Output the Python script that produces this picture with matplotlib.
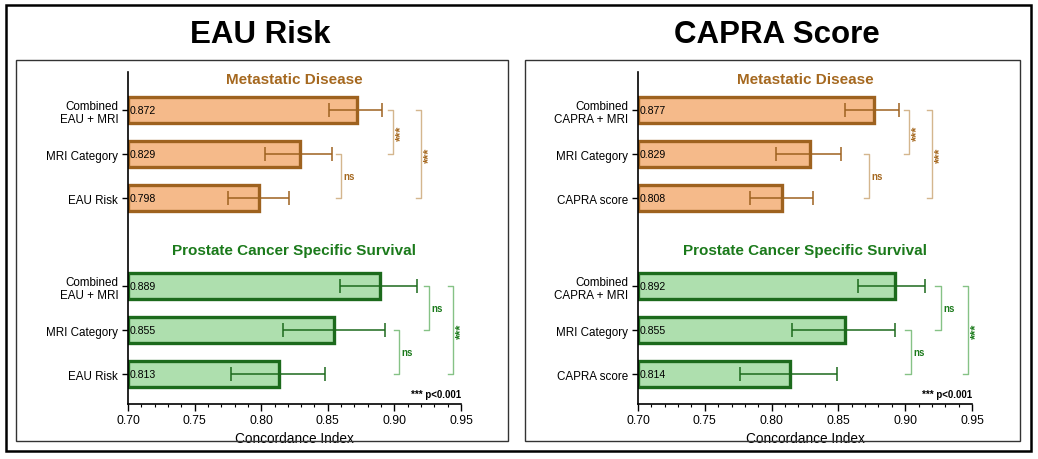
import matplotlib
matplotlib.use("Agg")
import matplotlib.pyplot as plt
from matplotlib.patches import Rectangle
from matplotlib.ticker import MultipleLocator
import numpy as np

plt.rcParams["font.family"] = ["Liberation Sans", "DejaVu Sans"]

# datos
labels_eau = ["Combined\nEAU + MRI", "MRI Category", "EAU Risk"]
labels_capra = ["Combined\nCAPRA + MRI", "MRI Category", "CAPRA score"]

eau_met = [0.872, 0.829, 0.798]
eau_met_lo = [0.851, 0.803, 0.775]
eau_met_hi = [0.891, 0.853, 0.821]
eau_pcss = [0.889, 0.855, 0.813]
eau_pcss_lo = [0.859, 0.816, 0.777]
eau_pcss_hi = [0.917, 0.893, 0.848]

capra_met = [0.877, 0.829, 0.808]
capra_met_lo = [0.855, 0.803, 0.784]
capra_met_hi = [0.895, 0.852, 0.831]
capra_pcss = [0.892, 0.855, 0.814]
capra_pcss_lo = [0.865, 0.815, 0.776]
capra_pcss_hi = [0.915, 0.892, 0.849]

# comparaciones: (0,1), (1,2), (0,2)
sig_met = ["***", "ns", "***"]
sig_pcss = ["ns", "ns", "***"]

W, H = 1038, 460
fig = plt.figure(figsize=(W / 100, H / 100), dpi=100)


def px_rect(x0, y0, x1, y1, lw, color="black"):
    fig.patches.append(Rectangle((x0 / W, 1 - y1 / H), (x1 - x0) / W, (y1 - y0) / H,
                                 transform=fig.transFigure, fill=False,
                                 lw=lw, edgecolor=color, zorder=0))


px_rect(6, 6, 1031, 452, 1.8)
px_rect(16, 61, 508, 442, 1.0, "#333333")
px_rect(525, 61, 1020, 442, 1.0, "#333333")

fig.text(260 / W, 1 - 35 / H, "EAU Risk", ha="center", va="center",
         fontsize=22.5, fontweight="bold")
fig.text(777 / W, 1 - 35 / H, "CAPRA Score", ha="center", va="center",
         fontsize=22.5, fontweight="bold")

orange = dict(fill="#F5BA8A", edge="#9E621F", brack="#D4B68E", text="#A5681F")
green = dict(fill="#AEDFAE", edge="#1C6A1C", brack="#86C286", text="#1B7A1B")


def panel(x0px, x1px, labels, met, met_lo, met_hi, pcss, pcss_lo, pcss_hi,
          brx_met, brx_pcss):
    ax = fig.add_axes([x0px / W, (H - 405) / H, (x1px - x0px) / W, 332 / H])
    pos_met = np.array([0, 1, 2])
    pos_pcss = np.array([4, 5, 6])

    for pos, vals, lo, hi, col, sig, brx, title, ty in [
        (pos_met, met, met_lo, met_hi, orange, sig_met, brx_met, "Metastatic Disease", -0.70),
        (pos_pcss, pcss, pcss_lo, pcss_hi, green, sig_pcss, brx_pcss,
         "Prostate Cancer Specific Survival", 3.18)]:
        vals = np.array(vals)
        ax.barh(pos, vals - 0.70, left=0.70, height=0.6, color=col["fill"],
                edgecolor=col["edge"], linewidth=2.4, zorder=2)
        ax.errorbar(vals, pos, xerr=[vals - np.array(lo), np.array(hi) - vals],
                    fmt="none", ecolor=col["edge"], elinewidth=1.1, capsize=5,
                    capthick=1.1, zorder=3)
        for p, v in zip(pos, vals):
            ax.text(0.7015, p, f"{v:.3f}", ha="left", va="center", fontsize=7.6, zorder=4)
        ax.text(0.825, ty, title, ha="center", va="center", fontsize=11,
                fontweight="bold", color=col["text"])
        pares = [(0, 1), (1, 2), (0, 2)]
        for (a, b), s, bx in zip(pares, sig, brx):
            ya, yb = pos[a], pos[b]
            ax.plot([bx - 0.004, bx, bx, bx - 0.004], [ya, ya, yb, yb],
                    color=col["brack"], lw=1.0, clip_on=False)
            if s == "ns":
                ax.text(bx + 0.002, (ya + yb) / 2, s, ha="left", va="center",
                        fontsize=7, fontweight="bold", color=col["text"], clip_on=False)
            else:
                ax.text(bx + 0.0058, (ya + yb) / 2, s, ha="center", va="center",
                        rotation=90, fontsize=9.5, fontweight="bold",
                        color=col["text"], clip_on=False)

    ax.set_xlim(0.70, 0.95)
    ax.set_ylim(6.68, -0.864)
    ax.set_yticks(list(pos_met) + list(pos_pcss))
    ax.set_yticklabels(labels + labels, fontsize=8.4)
    ax.set_xticks([0.70, 0.75, 0.80, 0.85, 0.90, 0.95])
    ax.set_xticklabels(["0.70", "0.75", "0.80", "0.85", "0.90", "0.95"], fontsize=8.8)
    ax.xaxis.set_minor_locator(MultipleLocator(0.01))
    ax.tick_params(axis="x", which="major", length=5, width=1, pad=2)
    ax.tick_params(axis="x", which="minor", length=2.5, width=0.8)
    ax.tick_params(axis="y", length=4, width=1, pad=3)
    ax.set_xlabel("Concordance Index", fontsize=9.8, labelpad=4)
    for s in ["top", "right"]:
        ax.spines[s].set_visible(False)
    for s in ["left", "bottom"]:
        ax.spines[s].set_linewidth(1.2)
    ax.text(0.95, 6.45, "*** p<0.001", ha="right", va="center", fontsize=7,
            fontweight="bold")
    ax.patch.set_visible(False)
    return ax


panel(128, 461, labels_eau, eau_met, eau_met_lo, eau_met_hi,
      eau_pcss, eau_pcss_lo, eau_pcss_hi,
      [0.899, 0.860, 0.920], [0.926, 0.9035, 0.944])
panel(638, 972, labels_capra, capra_met, capra_met_lo, capra_met_hi,
      capra_pcss, capra_pcss_lo, capra_pcss_hi,
      [0.903, 0.873, 0.920], [0.9266, 0.904, 0.947])

fig.savefig("out.png", dpi=100)
